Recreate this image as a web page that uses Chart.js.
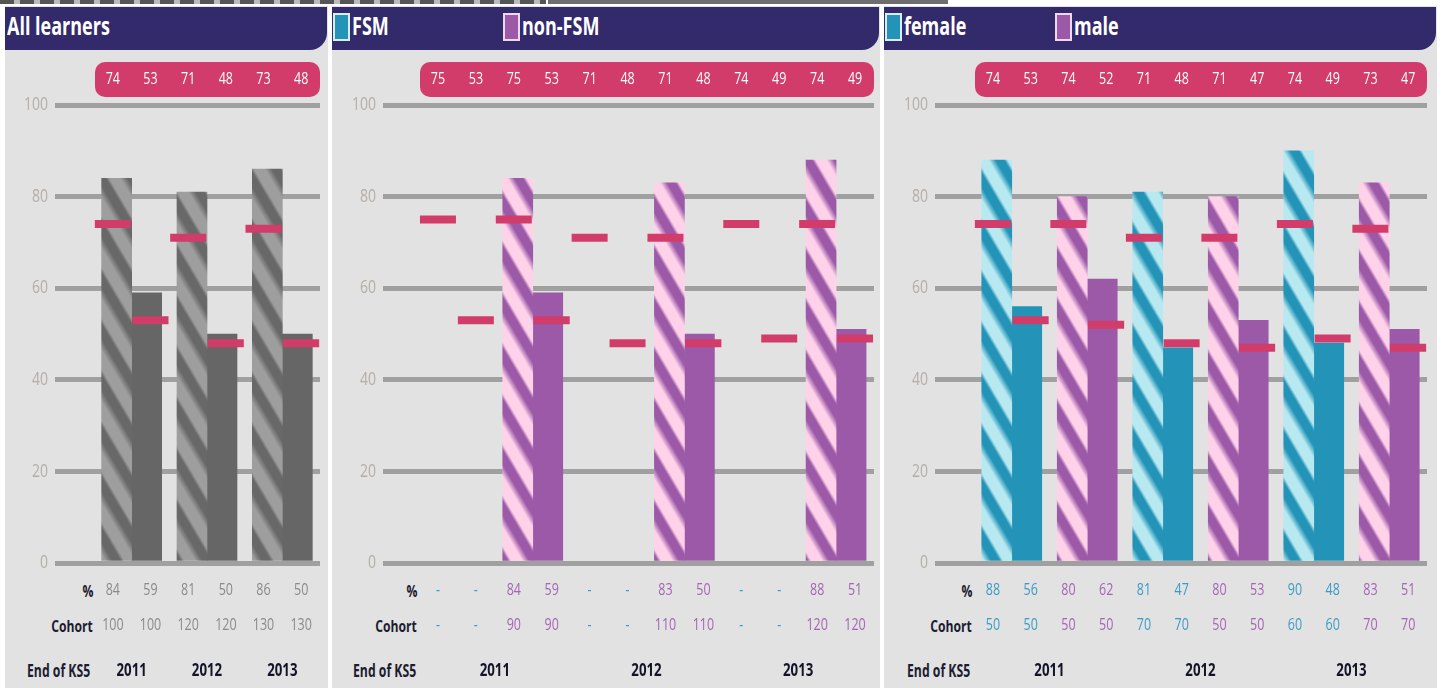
<!DOCTYPE html>
<html>
<head>
<meta charset="utf-8">
<script src="https://cdn.jsdelivr.net/npm/chart.js@4.4.1/dist/chart.umd.min.js"></script>
<style>
  body { margin: 0; width: 1442px; height: 688px; background: #fff; overflow: hidden; position: relative;
         font-family: 'Open Sans', sans-serif; }
  .strip1 { position: absolute; left: 0; top: 0; width: 546px; height: 4px;
            background: repeating-linear-gradient(90deg, #555 0 14px, #bbb 14px 20px); }
  .strip2 { position: absolute; left: 548px; top: 0; width: 400px; height: 4px; background: #6e6e6e; }
  .panel { position: absolute; top: 6px; height: 682px; background: #e2e2e2; }
  .head { position: absolute; left: 0; top: 1px; right: 1px; height: 43px; background: #332a6c;
          border-bottom-right-radius: 17px; color: #fff; font-weight: bold; font-size: 25px; }
  .head span { position: absolute; top: 1px; transform: scaleX(0.72); transform-origin: left; white-space: nowrap; }
  .sw { position: absolute; top: 6px; width: 13px; height: 24px; border: 2px solid #d8eef4; }
  .lab { position: absolute; font-weight: bold; font-size: 16px; color: #1c1c30; white-space: nowrap;
         transform: scaleX(0.76); transform-origin: right; }
  .lab.l { font-size: 17px; transform: scaleX(0.72); transform-origin: left; }
  canvas { position: absolute; left: 0; top: 46px; }
</style>
</head>
<body>
<div class="strip1"></div><div class="strip2"></div>

<div class="panel" style="left:5px;width:323px">
  <div class="head"><span style="left:2px">All learners</span></div>
  <div class="lab" style="right:235px;top:574px">%</div>
  <div class="lab" style="right:235px;top:609px">Cohort</div>
  <div class="lab l" style="left:22px;top:653px">End of KS5</div>
  <canvas id="allChart" width="323" height="636"></canvas>
</div>

<div class="panel" style="left:332px;width:548px">
  <div class="head">
    <div class="sw" style="left:1px;background:#2394b8"></div><span style="left:20px">FSM</span>
    <div class="sw" style="left:171px;background:#9b59a8;border-color:#eed8ee"></div><span style="left:190px">non-FSM</span>
  </div>
  <div class="lab" style="right:463px;top:574px">%</div>
  <div class="lab" style="right:463px;top:609px">Cohort</div>
  <div class="lab l" style="left:21px;top:653px">End of KS5</div>
  <canvas id="fsmChart" width="548" height="636"></canvas>
</div>

<div class="panel" style="left:884px;width:553px">
  <div class="head">
    <div class="sw" style="left:1px;background:#2394b8"></div><span style="left:20px">female</span>
    <div class="sw" style="left:171px;background:#9b59a8;border-color:#eed8ee"></div><span style="left:190px">male</span>
  </div>
  <div class="lab" style="right:465px;top:574px">%</div>
  <div class="lab" style="right:465px;top:609px">Cohort</div>
  <div class="lab l" style="left:23px;top:653px">End of KS5</div>
  <canvas id="sexChart" width="553" height="636"></canvas>
</div>

<script>
// datos
const years = ['2011', '2012', '2013'];

// All learners
const allPct = [84, 59, 81, 50, 86, 50];
const allCohort = [100, 100, 120, 120, 130, 130];
const allBench = [74, 53, 71, 48, 73, 48];

// FSM / non-FSM  (FSM, FSM, non-FSM, non-FSM por año)
const fsmPct = ['-', '-', 84, 59, '-', '-', 83, 50, '-', '-', 88, 51];
const fsmCohort = ['-', '-', 90, 90, '-', '-', 110, 110, '-', '-', 120, 120];
const fsmBench = [75, 53, 75, 53, 71, 48, 71, 48, 74, 49, 74, 49];

// female / male
const sexPct = [88, 56, 80, 62, 81, 47, 80, 53, 90, 48, 83, 51];
const sexCohort = [50, 50, 50, 50, 70, 70, 50, 50, 60, 60, 70, 70];
const sexBench = [74, 53, 74, 52, 71, 48, 71, 47, 74, 49, 73, 47];

const pink = '#d23c6a';
const grey = { light: '#9e9e9e', dark: '#686868', solid: '#666666', text: '#8a8a8a' };
const blue = { light: '#b8e8f0', dark: '#2394b8', solid: '#2394b8', text: '#3a9cc4' };
const purple = { light: '#ffd2ea', dark: '#9b59a8', solid: '#9b59a8', text: '#a565b4' };

Chart.defaults.font.family = "'Open Sans', sans-serif";

function hex(c) {
  return [1, 3, 5].map(i => parseInt(c.substr(i, 2), 16));
}

// texto estrecho (condensed)
function condense(ctx, k) {
  const fill = ctx.fillText;
  ctx.fillText = function (text, x, y, maxWidth) {
    this.save();
    this.translate(x, y);
    this.scale(k, 1);
    fill.call(this, text, 0, 0);
    this.restore();
  };
}

// patron rayado diagonal
function stripes(ctx, col) {
  const w = 30, h = 51;
  const c = document.createElement('canvas');
  c.width = w; c.height = h;
  const g = c.getContext('2d');
  const img = g.createImageData(w, h);
  const a = hex(col.light), b = hex(col.dark);
  for (let y = 0; y < h; y++) {
    for (let x = 0; x < w; x++) {
      let t = (x / w - y / h) % 1;
      if (t < 0) t += 1;
      let m;
      if (t < 0.36) m = 0;
      else if (t < 0.6) m = (t - 0.36) / 0.24;
      else if (t < 0.88) m = 1;
      else m = 1 - (t - 0.88) / 0.12;
      const k = (y * w + x) * 4;
      for (let j = 0; j < 3; j++) img.data[k + j] = Math.round(a[j] + (b[j] - a[j]) * m);
      img.data[k + 3] = 255;
    }
  }
  g.putImageData(img, 0, 0);
  return ctx.createPattern(c, 'repeat');
}

function oddEven(arr, odd) {
  const out = [];
  for (let i = odd; i < arr.length; i += 2) out.push(arr[i] === '-' ? null : arr[i]);
  return out;
}

// fondo rosa de los valores de referencia
const badge = {
  id: 'badge',
  beforeDraw(chart) {
    const a = chart.chartArea, c = chart.ctx;
    c.save();
    c.fillStyle = pink;
    c.beginPath();
    c.roundRect(a.left + 1, 10, a.right - a.left - 1, 35, 10);
    c.fill();
    c.restore();
  }
};

const noPad = s => { s.paddingLeft = 0; s.paddingRight = 0; };

function makeChart(id, pct, cohort, bench, pairCols, leftW, tickLen, rightPad) {
  const canvas = document.getElementById(id);
  const ctx = canvas.getContext('2d');
  condense(ctx, 0.78);
  const slotCols = [];
  pairCols.forEach(p => { slotCols.push(p.text, p.text); });
  return new Chart(ctx, {
    type: 'bar',
    data: {
      labels: pairCols.map((p, i) => 'p' + i),
      datasets: [
        {
          label: 'benchmark',
          type: 'line',
          xAxisID: 'xs',
          data: bench,
          showLine: false,
          pointStyle: 'line',
          pointRadius: 18,
          pointHoverRadius: 18,
          pointBorderWidth: 8,
          pointHoverBorderWidth: 8,
          borderColor: pink,
          order: 0
        },
        {
          label: 'striped',
          data: oddEven(pct, 0),
          backgroundColor: pairCols.map(p => stripes(ctx, p)),
          barThickness: 30,
          order: 1
        },
        {
          label: 'solid',
          data: oddEven(pct, 1),
          backgroundColor: pairCols.map(p => p.solid),
          barThickness: 30,
          order: 1
        }
      ]
    },
    options: {
      responsive: false,
      animation: false,
      layout: { autoPadding: false, padding: { left: 0, right: rightPad, top: 0, bottom: 0 } },
      plugins: { legend: { display: false }, tooltip: { enabled: false } },
      scales: {
        x: { axis: 'x', display: false, offset: true },
        xt: {
          axis: 'x', type: 'category', position: 'top', offset: true,
          labels: bench.map(String),
          grid: { display: false, drawTicks: false }, border: { display: false },
          ticks: { color: '#ffffff', font: { size: 16 }, padding: 16, maxRotation: 0, autoSkip: false },
          afterFit: s => { s.height = 53; noPad(s); }
        },
        xs: {
          axis: 'x', type: 'category', position: 'bottom', offset: true, weight: 0,
          labels: bench.map((b, i) => 's' + i),
          grid: { display: false, drawTicks: false }, border: { display: false },
          ticks: {
            callback: (v, i) => [String(pct[i]), String(cohort[i])],
            color: c => slotCols[c.index],
            font: { size: 16, lineHeight: 35 / 16 },
            padding: 10, maxRotation: 0, autoSkip: false
          },
          afterFit: s => { s.height = 80; noPad(s); }
        },
        xy: {
          axis: 'x', type: 'category', position: 'bottom', offset: true, weight: 1,
          labels: years,
          grid: { display: false, drawTicks: false }, border: { display: false },
          ticks: { color: '#141428', font: { size: 17, weight: 'bold' }, padding: 18, maxRotation: 0 },
          afterFit: s => { s.height = 45; noPad(s); }
        },
        y: {
          min: 0, max: 100,
          ticks: { stepSize: 20, color: '#b5aea6', font: { size: 18 }, padding: 7 },
          grid: { color: '#a0a0a0', lineWidth: 5, tickLength: tickLen },
          border: { display: false },
          afterFit: s => { s.width = leftW; }
        }
      }
    },
    plugins: [badge]
  });
}

makeChart('allChart', allPct, allCohort, allBench, [grey, grey, grey], 89, 39, 8);
makeChart('fsmChart', fsmPct, fsmCohort, fsmBench, [blue, purple, blue, purple, blue, purple], 87, 36, 6);
makeChart('sexChart', sexPct, sexCohort, sexBench, [blue, purple, blue, purple, blue, purple], 90, 39, 10);
</script>
</body>
</html>
